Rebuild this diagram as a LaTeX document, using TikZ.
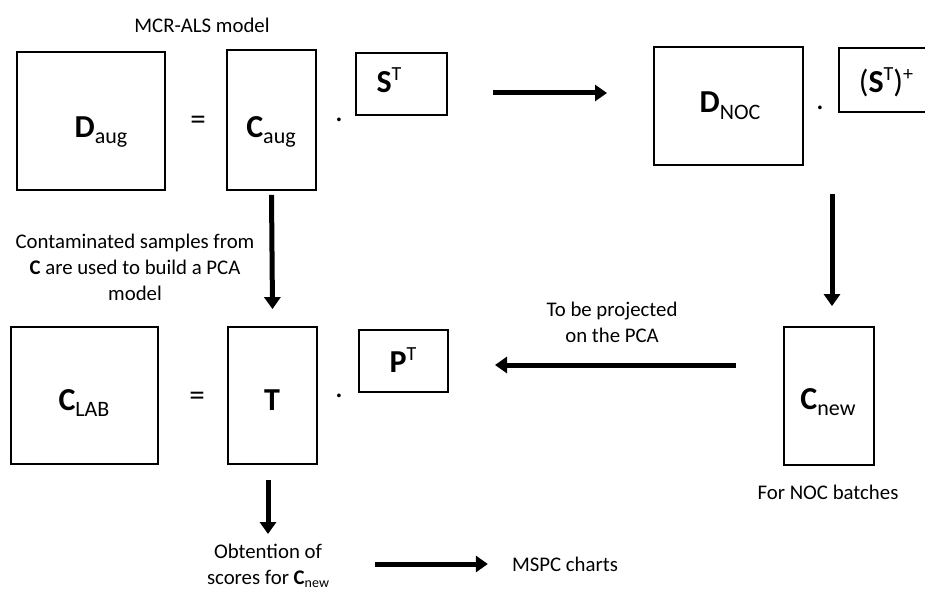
\documentclass[tikz,border=0pt]{standalone}
\usepackage{fontspec}
\setmainfont{Carlito}
\usetikzlibrary{arrows.meta}

% index helpers for matrix names
\newcommand\lowidx[1]{\raisebox{-6pt}{\fontsize{22}{22}\selectfont\mdseries #1}}
\newcommand\highidx[1]{\raisebox{12pt}{\fontsize{20}{20}\selectfont\mdseries #1}}
\newcommand\smallidx[1]{\raisebox{-3pt}{\fontsize{14}{14}\selectfont\mdseries #1}}

\tikzset{
  mbox/.style={draw, line width=1.8pt, inner sep=0pt},
  mname/.style={anchor=base, inner sep=0pt, font=\fontsize{32}{32}\selectfont\bfseries},
  sym/.style={inner sep=0pt, font=\fontsize{31}{31}\selectfont},
  note/.style={align=center, inner sep=0pt, font=\fontsize{20.8}{26}\selectfont},
  bigarrow/.style={line width=5pt, -{Triangle[length=12pt,width=16pt]}}
}

\begin{document}
\begin{tikzpicture}[x=1pt,y=-1pt]
\useasboundingbox (0,0) rectangle (925,591);
\clip (0,0) rectangle (925,591);

% MCR-ALS decomposition
\node[note] (mcrtitle) at (202,25) {MCR-ALS model};
\node[mbox, minimum width=148pt, minimum height=138pt] (daug) at (91,121) {};
\node[mname] (daugl) at (101,137) {D\lowidx{aug}};
\node[sym] (eq1) at (198,123) {=};
\node[mbox, minimum width=89pt, minimum height=140pt] (caug) at (271.5,120) {};
\node[mname] (caugl) at (271,137) {C\lowidx{aug}};
\node[sym] (dot1) at (339,120) {.};
\node[mbox, minimum width=91pt, minimum height=62pt] (st) at (401.5,84) {};
\node[mname] (stl) at (389,93) {S\highidx{T}};

% NOC data and pseudoinverse
\node[mbox, minimum width=149pt, minimum height=118pt] (dnoc) at (728.5,106) {};
\node[mname] (dnocl) at (730,113) {D\lowidx{NOC}};
\node[sym] (dot2) at (820,108) {.};
\node[mbox, minimum width=110pt, minimum height=64pt, anchor=north west] (stp) at (838,47) {};
\node[mname] (stpl) at (886,93) {\mdseries(\bfseries S\highidx{T}\mdseries)\highidx{+}};

\coordinate (a1s) at (493,93);
\coordinate (a1e) at (607,93);
\draw[bigarrow] (a1s) -- (a1e);

% PCA model
\node[note] (contam) at (135,267) {Contaminated samples from\\{\bfseries C} are used to build a PCA\\model};
\node[mbox, minimum width=147pt, minimum height=137pt] (clab) at (84.5,395.5) {};
\node[mname] (clabl) at (84,410) {C\lowidx{LAB}};
\node[sym] (eq2) at (197,399) {=};
\node[mbox, minimum width=89pt, minimum height=137pt] (t) at (272.5,395.5) {};
\node[mname] (tl) at (272,410) {T};
\node[sym] (dot3) at (339,396) {.};
\node[mbox, minimum width=89pt, minimum height=62pt] (pt) at (403.5,361) {};
\node[mname] (ptl) at (403,372) {P\highidx{T}};

\node[mbox, minimum width=90pt, minimum height=138pt] (cnew) at (829,396) {};
\node[mname] (cnewl) at (828,409) {C\lowidx{new}};
\node[note] (nocb) at (828,492) {For NOC batches};

\draw[bigarrow] ([yshift=-4pt]caug.south) -- ([yshift=17pt]t.north);
\draw[bigarrow] ([xshift=103.5pt,yshift=-28pt]dnoc.south) -- ([xshift=3pt,yshift=20pt]cnew.north);

\coordinate (a2s) at (736,365);
\coordinate (a2e) at (495,365);
\draw[bigarrow] (a2s) -- (a2e);
\node[note] (proj) at (612,322) {To be projected\\on the PCA};

% scores and control charts
\node[note] (scores) at (268,566) {Obtention of\\scores for {\bfseries C}\smallidx{new}};
\draw[bigarrow] ([xshift=-4.5pt,yshift=-15pt]t.south) -- ([yshift=10pt]scores.north);
\node[note] (mspc) at (565,564) {MSPC charts};
\coordinate (a3s) at (375,564);
\draw[bigarrow] (a3s) -- ([xshift=-24pt]mspc.west);
\end{tikzpicture}
\end{document}
